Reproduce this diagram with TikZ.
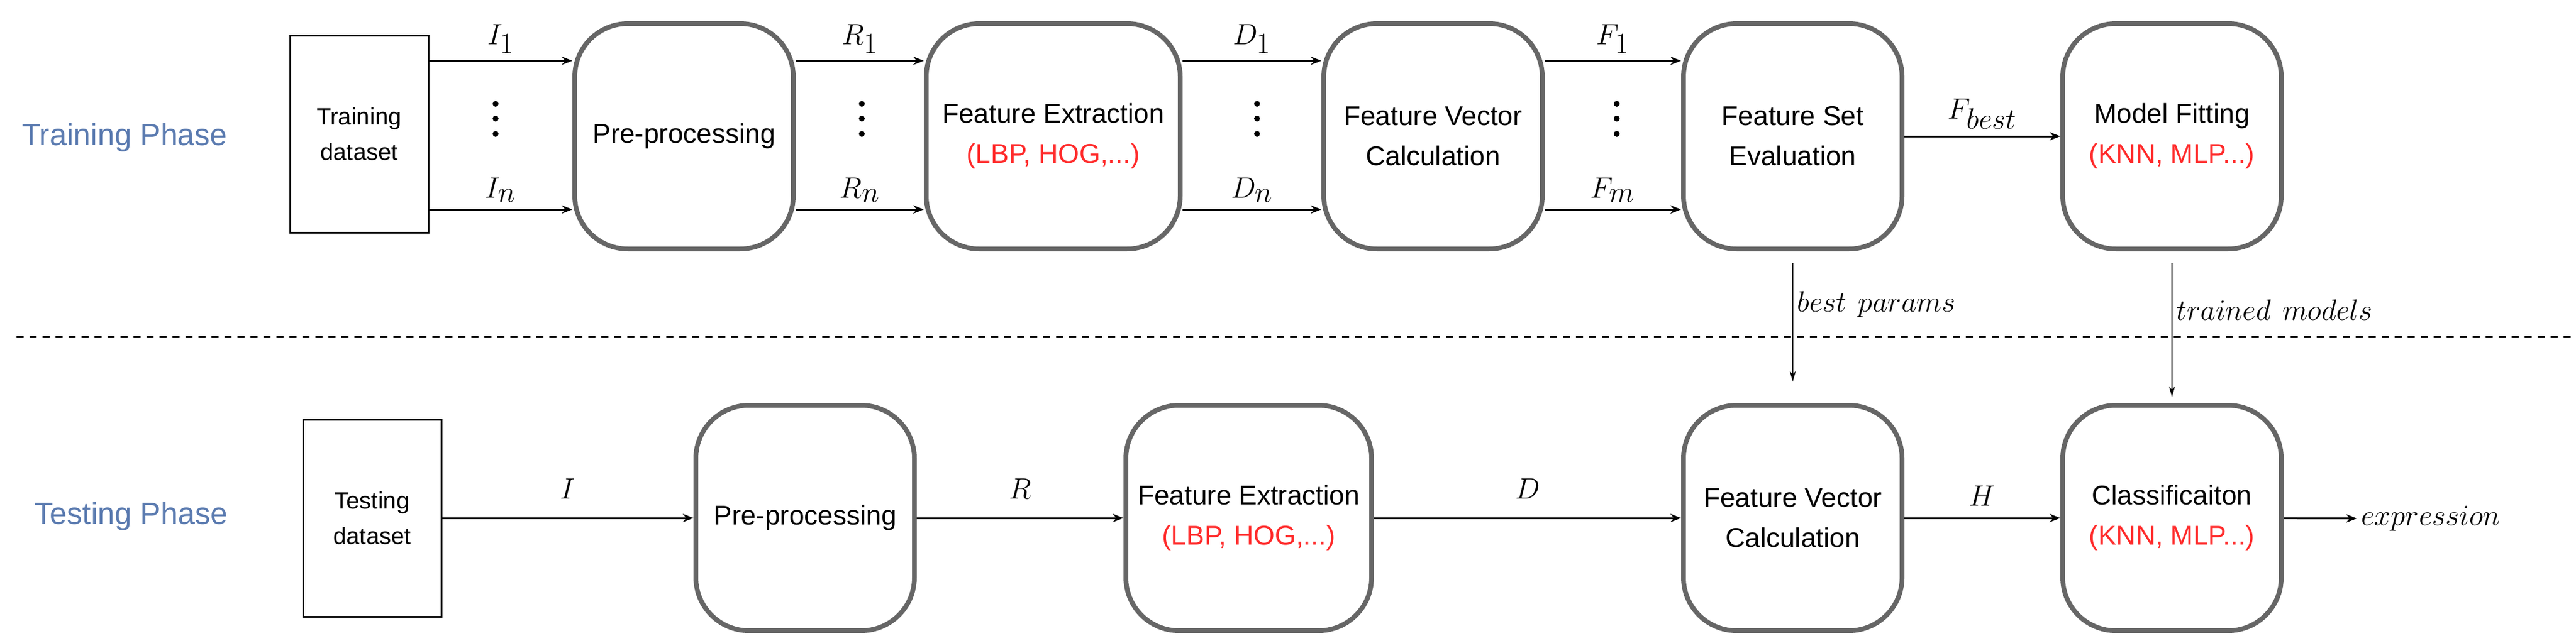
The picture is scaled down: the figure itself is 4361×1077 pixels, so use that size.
\documentclass[tikz,border=0pt]{standalone}
\usepackage{fontspec}
\setmainfont{Liberation Sans}
\usetikzlibrary{arrows.meta}
\definecolor{boxgray}{HTML}{666666}
\definecolor{phaseblue}{HTML}{5B7BB0}
\definecolor{lred}{HTML}{FF2A2A}
\begin{document}
\begin{tikzpicture}[x=0.5pt,y=-0.5pt,
  blk/.style={draw=boxgray,line width=4pt,rounded corners=45pt,minimum width=185pt,minimum height=191pt,align=center,font=\fontsize{23}{34}\selectfont,inner sep=0pt},
  ds/.style={draw=black,line width=1.5pt,minimum width=117pt,minimum height=167pt,align=center,font=\fontsize{20}{30}\selectfont},
  arr/.style={line width=1.5pt,-{Stealth[length=9pt,width=7pt]}},
  thin/.style={line width=1pt,-{Stealth[length=9pt,width=5pt]}},
  lab/.style={font=\fontsize{35}{40}\selectfont},
  phase/.style={text=phaseblue,font=\fontsize{26}{30}\selectfont}]
\useasboundingbox (0,0) rectangle (4361,1077);
% training
\node[phase] (tp) at (211,233) {Training Phase};
\node[ds] (td) at (608,227) {Training\\dataset};
\node[blk] (pp1) at (1158,231) {Pre-processing};
\node[blk,minimum width=215pt] (fe1) at (1783,231) {Feature Extraction\\{\color{lred}(LBP, HOG,...)}};
\node[blk] (fv1) at (2426,231) {Feature Vector\\Calculation};
\node[blk] (fs1) at (3035,231) {Feature Set\\Evaluation};
\node[blk] (mf1) at (3677,231) {Model Fitting\\{\color{lred}(KNN, MLP...)}};
\foreach \a/\b/\l/\m/\x in {td/pp1/I_1/I_n/839, pp1/fe1/R_1/R_n/1459, fe1/fv1/D_1/D_n/2128, fv1/fs1/F_1/F_m/2737}{
  \draw[arr] (\a.east |- 0,103) -- (\b.west |- 0,103) node[midway,above=2pt,lab] {$\l$};
  \draw[arr] (\a.east |- 0,355) -- (\b.west |- 0,355) node[midway,above=2pt,lab] {$\m$};
  \foreach \yy in {176,201,227} \fill (\x,\yy) circle (5);
}
\draw[arr] (fs1) -- (mf1) node[midway,above=2pt,lab] {$F_{best}$};
% divider
\coordinate (dl) at (28,571);
\coordinate (dr) at (4361,571);
\draw[line width=2pt,dash pattern=on 6pt off 5pt] (dl) -- (dr);
% testing
\node[phase] (tsp) at (222,875) {Testing Phase};
\node[ds] (tsd) at (630,878) {Testing\\dataset};
\node[blk] (pp2) at (1363,878) {Pre-processing};
\node[blk,minimum width=208pt] (fe2) at (2114,878) {Feature Extraction\\{\color{lred}(LBP, HOG,...)}};
\node[blk] (fv2) at (3035,878) {Feature Vector\\Calculation};
\node[blk] (cl2) at (3677,878) {Classificaiton\\{\color{lred}(KNN, MLP...)}};
\node[lab,anchor=west] (ex) at (3990,879) {$expression$};
\draw[arr] (tsd) -- (pp2) node[midway,above=12pt,lab] {$I$};
\draw[arr] (pp2) -- (fe2) node[midway,above=12pt,lab] {$R$};
\draw[arr] (fe2) -- (fv2) node[midway,above=12pt,lab] {$D$};
\draw[arr] (fv2) -- (cl2) node[midway,above=6pt,lab] {$H$};
\draw[arr] (cl2) -- (ex);
\draw[thin] ([yshift=-10pt]fs1.south) -- ([yshift=18pt]fv2.north) node[pos=0.35,right=0pt,lab] {$best\ params$};
\draw[thin] ([yshift=-10pt]mf1.south) -- ([yshift=5pt]cl2.north) node[pos=0.35,right=0pt,lab] {$trained\ models$};
\end{tikzpicture}
\end{document}
